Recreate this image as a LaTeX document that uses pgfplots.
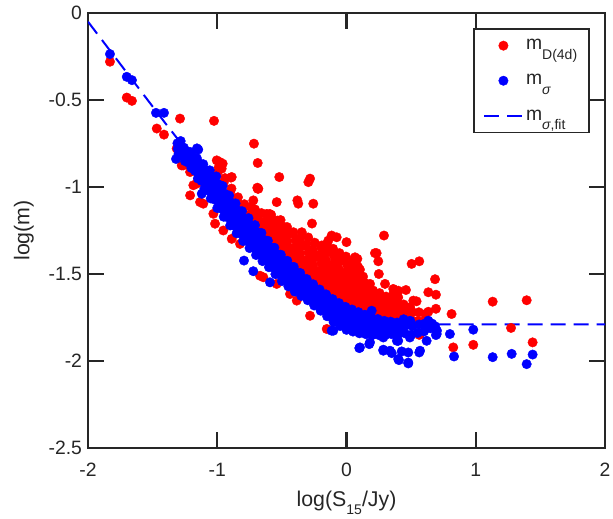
\documentclass[border=0pt]{standalone}
\usepackage{pgfplots}
\pgfplotsset{compat=1.18}
\usepackage{fontspec}
\setmainfont{Liberation Sans}
\usetikzlibrary{calc}
\definecolor{axc}{RGB}{38,38,38}
\begin{document}
\begin{tikzpicture}
\begin{axis}[name=ax, scale only axis, width=387.75pt, height=326.25pt,
 xmin=-2, xmax=2, ymin=-2.5, ymax=0,
 xtick={-2,-1,0,1,2}, xticklabels={-2,-1,0,1,2},
 ytick={-2.5,-2,-1.5,-1,-0.5,0}, yticklabels={-2.5,-2,-1.5,-1,-0.5,0},
 tick align=inside, major tick length=12pt,
 axis line style={axc, line width=1.6pt},
 every tick/.style={axc, line width=1.6pt},
 tick label style={font=\fontsize{14.5}{17}\selectfont, text=axc},
 xticklabel style={yshift=-8pt},
 yticklabel style={xshift=-1pt},
 xlabel={log(S\raisebox{-5.5pt}{\fontsize{10.5}{12}\selectfont 15}/Jy)},
 ylabel={log(m)},
 label style={font=\fontsize{16}{19}\selectfont, text=axc},
 xlabel style={at={(axis description cs:0.5,-0.135)}, anchor=base},
 ylabel style={at={(axis description cs:-0.1135,0.5)}, anchor=base},
 legend image code/.code={\draw[mark repeat=2,mark phase=2,#1] plot coordinates {(0pt,0pt) (14.25pt,0pt) (28.5pt,0pt)};},
 legend style={at={(rel axis cs:1,1)}, anchor=north east, xshift=-11.25pt, yshift=-11.25pt,
   draw=axc, line width=1.2pt, fill=white, font=\fontsize{14.5}{17}\selectfont, text=axc,
   inner xsep=7pt, inner ysep=6pt, row sep=13pt, cells={anchor=west},
   /tikz/every even column/.append style={column sep=7.5pt}},
]
\addplot[only marks, mark=*, mark size=3.55pt, mark options={fill=red, draw=red, line width=0.3pt}] coordinates {
(-1.000,-0.920) (-0.990,-0.889)
(-0.950,-0.975) (-0.940,-0.949)
(-0.900,-1.030) (-0.890,-1.009)
(-0.850,-1.075) (-0.840,-1.059)
(-0.800,-1.120) (-0.790,-1.099)
(-0.750,-1.160) (-0.740,-1.115)
(-0.700,-1.200) (-0.690,-1.165) (-0.708,-1.129)
(-0.650,-1.245) (-0.640,-1.200) (-0.658,-1.150)
(-0.600,-1.290) (-0.590,-1.245) (-0.608,-1.200) (-0.594,-1.155)
(-0.550,-1.330) (-0.540,-1.285) (-0.558,-1.240) (-0.544,-1.195)
(-0.500,-1.370) (-0.490,-1.325) (-0.508,-1.280) (-0.494,-1.235) (-0.510,-1.190)
(-0.450,-1.405) (-0.440,-1.360) (-0.458,-1.315) (-0.444,-1.270) (-0.460,-1.230)
(-0.400,-1.440) (-0.390,-1.395) (-0.408,-1.350) (-0.394,-1.305) (-0.410,-1.260)
(-0.350,-1.475) (-0.340,-1.430) (-0.358,-1.385) (-0.344,-1.340) (-0.360,-1.295) (-0.346,-1.260)
(-0.300,-1.510) (-0.290,-1.465) (-0.308,-1.420) (-0.294,-1.375) (-0.310,-1.330) (-0.296,-1.290)
(-0.250,-1.540) (-0.240,-1.495) (-0.258,-1.450) (-0.244,-1.405) (-0.260,-1.360) (-0.246,-1.320)
(-0.200,-1.570) (-0.190,-1.525) (-0.208,-1.480) (-0.194,-1.435) (-0.210,-1.390) (-0.196,-1.345)
(-0.150,-1.600) (-0.140,-1.555) (-0.158,-1.510) (-0.144,-1.465) (-0.160,-1.420) (-0.146,-1.375) (-0.154,-1.330)
(-0.100,-1.625) (-0.090,-1.580) (-0.108,-1.535) (-0.094,-1.490) (-0.110,-1.445) (-0.096,-1.400) (-0.104,-1.355)
(-0.050,-1.650) (-0.040,-1.605) (-0.058,-1.560) (-0.044,-1.515) (-0.060,-1.470) (-0.046,-1.425) (-0.054,-1.380)
(0.000,-1.670) (0.010,-1.625) (-0.008,-1.580) (0.006,-1.535) (-0.010,-1.490) (0.004,-1.445) (-0.004,-1.400)
(0.050,-1.685) (0.060,-1.640) (0.042,-1.595) (0.056,-1.550) (0.040,-1.505) (0.054,-1.460) (0.046,-1.430)
(0.100,-1.700) (0.110,-1.655) (0.092,-1.610) (0.106,-1.565) (0.090,-1.520) (0.104,-1.475)
(0.150,-1.715) (0.160,-1.670) (0.142,-1.625) (0.156,-1.580) (0.140,-1.550)
(0.200,-1.730) (0.210,-1.685) (0.192,-1.640) (0.206,-1.595)
(0.250,-1.740) (0.260,-1.695) (0.242,-1.650) (0.256,-1.610)
(0.300,-1.750) (0.310,-1.705) (0.292,-1.660) (0.306,-1.630)
(0.350,-1.755) (0.360,-1.710) (0.342,-1.665)
(0.400,-1.760) (0.410,-1.715) (0.392,-1.665)
(0.450,-1.760) (0.460,-1.720) (0.442,-1.675)
(0.500,-1.765) (0.510,-1.720) (0.492,-1.690)
(0.550,-1.770) (0.560,-1.720)
(0.600,-1.770) (0.610,-1.730)
(-0.720,-1.158) (-0.730,-1.125)
(-0.670,-1.200) (-0.680,-1.155)
(-0.620,-1.245) (-0.630,-1.200) (-0.617,-1.155)
(-0.570,-1.288) (-0.580,-1.243) (-0.567,-1.198) (-0.583,-1.160)
(-0.520,-1.328) (-0.530,-1.283) (-0.517,-1.238) (-0.533,-1.193)
(-0.470,-1.365) (-0.480,-1.320) (-0.467,-1.275) (-0.483,-1.230)
(-0.420,-1.400) (-0.430,-1.355) (-0.433,-1.265)
(-0.370,-1.435) (-0.380,-1.390) (-0.367,-1.345) (-0.383,-1.300)
(-0.320,-1.470) (-0.330,-1.425) (-0.333,-1.335)
(-0.270,-1.503) (-0.280,-1.458) (-0.267,-1.413) (-0.283,-1.368)
(-0.220,-1.533) (-0.230,-1.488) (-0.233,-1.398)
(-0.170,-1.563) (-0.180,-1.518) (-0.167,-1.473) (-0.183,-1.428) (-0.172,-1.383)
(-0.120,-1.590) (-0.130,-1.545) (-0.117,-1.500) (-0.133,-1.455)
(-0.070,-1.615) (-0.080,-1.570) (-0.067,-1.525) (-0.083,-1.480) (-0.072,-1.435)
(-0.020,-1.638) (-0.030,-1.593) (-0.017,-1.548) (-0.033,-1.503)
(0.030,-1.655) (0.020,-1.610) (0.033,-1.565) (0.017,-1.520) (0.028,-1.475)
(0.080,-1.670) (0.070,-1.625) (0.083,-1.580) (0.067,-1.535)
(0.130,-1.685) (0.120,-1.640) (0.133,-1.595) (0.117,-1.550) (0.128,-1.515)
(0.180,-1.700) (0.170,-1.655) (0.183,-1.610) (0.167,-1.570)
(0.230,-1.713) (0.220,-1.668) (0.233,-1.623)
(0.280,-1.723) (0.270,-1.678) (0.283,-1.635)
(0.330,-1.730) (0.320,-1.685) (0.333,-1.645)
(0.380,-1.735) (0.370,-1.690)
(-1.830,-0.280) (-1.700,-0.486) (-1.660,-0.505) (-1.468,-0.664) (-1.412,-0.699) (-1.288,-0.607)
(-1.025,-0.620) (-0.716,-0.751) (-0.687,-0.862) (-0.520,-0.943) (-0.295,-0.972) (-0.282,-0.952)
(-0.687,-1.010) (-0.540,-1.087) (-0.380,-1.077) (-0.373,-1.096) (-0.257,-1.096) (-0.267,-1.210)
(0.290,-1.279) (0.220,-1.380) (0.246,-1.427) (0.250,-1.500) (0.504,-1.442) (0.563,-1.427)
(0.685,-1.530) (0.633,-1.605) (0.692,-1.619) (0.813,-1.730) (0.826,-1.922) (1.131,-1.659)
(1.394,-1.651) (1.273,-1.810) (1.440,-1.893) (0.981,-1.907) (0.000,-1.317) (0.084,-1.413)
(0.091,-1.461) (0.233,-1.380) (0.182,-1.557) (0.298,-1.557) (0.362,-1.615) (0.400,-1.596)
(0.460,-1.592) (0.542,-1.657) (0.490,-1.695) (0.390,-1.700) (0.350,-1.663) (0.633,-1.717)
(0.692,-1.700) (0.563,-1.850) (-0.979,-0.857) (-0.966,-0.895) (-0.894,-0.946) (-0.690,-1.004)
(-1.314,-0.779) (-1.263,-0.876) (-1.185,-0.990) (-1.210,-1.048) (-1.133,-1.087) (-1.030,-1.154)
(-0.953,-1.250) (-0.888,-1.298) (-0.824,-1.327) (-0.669,-1.510) (-0.437,-1.615) (-0.385,-1.653)
(-0.282,-1.740) (-0.153,-1.816) (0.569,-1.845) (-1.275,-0.876) (-1.210,-0.914) (-1.159,-0.981)
(-1.004,-0.847) (-0.958,-0.866) (-0.888,-0.943) (-0.682,-1.010) (-0.721,-1.077) (-0.115,-1.279)
(-0.076,-1.289) (0.066,-1.404) (0.079,-1.452) (0.053,-1.500) (0.143,-1.615) (0.362,-1.586)
(0.400,-1.634) (0.414,-1.692) (0.517,-1.653) (-0.192,-1.336) (-0.141,-1.308) (-0.076,-1.384)
(-1.108,-1.096) (-1.017,-1.211) (-0.643,-1.519) (-0.540,-1.557)
};
\addlegendentry{m\raisebox{-7pt}{\fontsize{10.5}{12}\selectfont D(4d)}}
\addplot[only marks, mark=*, mark size=3.55pt, mark options={fill=blue, draw=blue, line width=0.3pt}] coordinates {
(-1.300,-0.811) (-1.292,-0.796) (-1.306,-0.780) (-1.295,-0.764) (-1.308,-0.749)
(-1.250,-0.851) (-1.242,-0.832) (-1.256,-0.813) (-1.245,-0.793) (-1.258,-0.774)
(-1.200,-0.891) (-1.192,-0.868) (-1.206,-0.845) (-1.195,-0.822) (-1.208,-0.799)
(-1.150,-0.951) (-1.142,-0.922) (-1.156,-0.893) (-1.145,-0.863) (-1.158,-0.834)
(-1.100,-1.011) (-1.092,-0.976) (-1.106,-0.940) (-1.095,-0.904) (-1.108,-0.869)
(-1.050,-1.066) (-1.042,-1.026) (-1.056,-0.985) (-1.045,-0.944) (-1.058,-0.904)
(-1.000,-1.121) (-0.992,-1.076) (-1.006,-1.030) (-0.995,-0.984) (-1.008,-0.939)
(-0.950,-1.171) (-0.942,-1.127) (-0.956,-1.083) (-0.945,-1.038) (-0.958,-0.994)
(-0.900,-1.221) (-0.892,-1.178) (-0.906,-1.135) (-0.895,-1.092) (-0.908,-1.049)
(-0.850,-1.266) (-0.842,-1.223) (-0.856,-1.180) (-0.845,-1.137) (-0.858,-1.094)
(-0.800,-1.311) (-0.792,-1.268) (-0.806,-1.225) (-0.795,-1.182) (-0.808,-1.139)
(-0.750,-1.351) (-0.742,-1.308) (-0.756,-1.265) (-0.745,-1.222) (-0.758,-1.179)
(-0.700,-1.391) (-0.692,-1.348) (-0.706,-1.305) (-0.695,-1.262) (-0.708,-1.219)
(-0.650,-1.426) (-0.642,-1.385) (-0.656,-1.345) (-0.645,-1.305) (-0.658,-1.264)
(-0.600,-1.461) (-0.592,-1.423) (-0.606,-1.385) (-0.595,-1.347) (-0.608,-1.309)
(-0.550,-1.501) (-0.542,-1.463) (-0.556,-1.425) (-0.545,-1.387) (-0.558,-1.349)
(-0.500,-1.541) (-0.492,-1.503) (-0.506,-1.465) (-0.495,-1.427) (-0.508,-1.389)
(-0.450,-1.571) (-0.442,-1.534) (-0.456,-1.498) (-0.445,-1.461) (-0.458,-1.424)
(-0.400,-1.601) (-0.392,-1.566) (-0.406,-1.530) (-0.395,-1.494) (-0.408,-1.459)
(-0.350,-1.626) (-0.342,-1.593) (-0.356,-1.560) (-0.345,-1.527) (-0.358,-1.494)
(-0.300,-1.651) (-0.292,-1.620) (-0.306,-1.590) (-0.295,-1.560) (-0.308,-1.529)
(-0.250,-1.681) (-0.242,-1.650) (-0.256,-1.620) (-0.245,-1.590) (-0.258,-1.559)
(-0.200,-1.711) (-0.192,-1.680) (-0.206,-1.650) (-0.195,-1.620) (-0.208,-1.589)
(-0.150,-1.743) (-0.142,-1.712) (-0.156,-1.680) (-0.145,-1.648) (-0.158,-1.617)
(-0.100,-1.776) (-0.092,-1.743) (-0.106,-1.710) (-0.095,-1.677) (-0.108,-1.644)
(-0.050,-1.799) (-0.042,-1.766) (-0.056,-1.733) (-0.045,-1.700) (-0.058,-1.667)
(0.000,-1.821) (0.008,-1.788) (-0.006,-1.755) (0.005,-1.722) (-0.008,-1.689)
(0.050,-1.831) (0.058,-1.799) (0.044,-1.768) (0.055,-1.736) (0.042,-1.704)
(0.100,-1.841) (0.108,-1.810) (0.094,-1.780) (0.105,-1.750) (0.092,-1.719)
(0.150,-1.846) (0.158,-1.818) (0.144,-1.790) (0.155,-1.762) (0.142,-1.734)
(0.200,-1.851) (0.208,-1.826) (0.194,-1.800) (0.205,-1.774) (0.192,-1.749)
(0.250,-1.851) (0.258,-1.828) (0.244,-1.805) (0.255,-1.782) (0.242,-1.759)
(0.300,-1.851) (0.308,-1.830) (0.294,-1.810) (0.305,-1.790) (0.292,-1.769)
(0.350,-1.846) (0.358,-1.828) (0.344,-1.810) (0.355,-1.792) (0.342,-1.774)
(0.400,-1.841) (0.408,-1.826) (0.394,-1.810) (0.405,-1.794) (0.392,-1.779)
(-1.271,-0.822) (-1.279,-0.805) (-1.269,-0.787) (-1.281,-0.770)
(-1.221,-0.861) (-1.229,-0.840) (-1.219,-0.818) (-1.231,-0.797)
(-1.171,-0.908) (-1.179,-0.882) (-1.169,-0.856) (-1.181,-0.830)
(-1.121,-0.965) (-1.129,-0.932) (-1.119,-0.900) (-1.131,-0.867)
(-1.071,-1.020) (-1.079,-0.982) (-1.069,-0.944) (-1.081,-0.906)
(-1.021,-1.072) (-1.029,-1.029) (-1.019,-0.986) (-1.031,-0.943)
(-0.971,-1.124) (-0.979,-1.079) (-0.969,-1.034) (-0.981,-0.989)
(-0.921,-1.174) (-0.929,-1.131) (-0.919,-1.087) (-0.931,-1.044)
(-0.871,-1.222) (-0.879,-1.179) (-0.869,-1.136) (-0.881,-1.093)
(-0.821,-1.267) (-0.829,-1.224) (-0.819,-1.181) (-0.831,-1.138)
(-0.771,-1.310) (-0.779,-1.267) (-0.769,-1.224) (-0.781,-1.181)
(-0.721,-1.350) (-0.729,-1.307) (-0.719,-1.264) (-0.731,-1.221)
(-0.671,-1.388) (-0.679,-1.346) (-0.669,-1.304) (-0.681,-1.263)
(-0.621,-1.424) (-0.629,-1.385) (-0.619,-1.345) (-0.631,-1.306)
(-0.571,-1.462) (-0.579,-1.424) (-0.569,-1.386) (-0.581,-1.348)
(-0.521,-1.502) (-0.529,-1.464) (-0.519,-1.426) (-0.531,-1.388)
(-0.471,-1.537) (-0.479,-1.500) (-0.469,-1.462) (-0.481,-1.425)
(-0.421,-1.568) (-0.429,-1.532) (-0.419,-1.496) (-0.431,-1.460)
(-0.371,-1.597) (-0.379,-1.562) (-0.369,-1.528) (-0.381,-1.493)
(-0.321,-1.622) (-0.329,-1.591) (-0.319,-1.559) (-0.331,-1.528)
(-0.271,-1.651) (-0.279,-1.620) (-0.269,-1.590) (-0.281,-1.559)
(-0.221,-1.681) (-0.229,-1.650) (-0.219,-1.620) (-0.231,-1.589)
(-0.171,-1.712) (-0.179,-1.681) (-0.169,-1.650) (-0.181,-1.619)
(-0.121,-1.744) (-0.129,-1.711) (-0.119,-1.679) (-0.131,-1.646)
(-0.071,-1.771) (-0.079,-1.738) (-0.069,-1.705) (-0.081,-1.672)
(-0.021,-1.794) (-0.029,-1.761) (-0.019,-1.728) (-0.031,-1.695)
(0.029,-1.810) (0.021,-1.777) (0.031,-1.745) (0.019,-1.712)
(0.079,-1.821) (0.071,-1.790) (0.081,-1.759) (0.069,-1.728)
(0.129,-1.829) (0.121,-1.800) (0.131,-1.770) (0.119,-1.741)
(0.179,-1.835) (0.171,-1.808) (0.181,-1.782) (0.169,-1.755)
(0.229,-1.840) (0.221,-1.815) (0.231,-1.791) (0.219,-1.766)
(0.279,-1.840) (0.271,-1.819) (0.281,-1.797) (0.269,-1.775)
(0.329,-1.839) (0.321,-1.820) (0.331,-1.800) (0.319,-1.781)
(0.379,-1.835) (0.371,-1.818) (0.381,-1.802) (0.369,-1.785)
(0.450,-1.840) (0.462,-1.795) (0.442,-1.760) (0.500,-1.849) (0.512,-1.800) (0.494,-1.770)
(0.550,-1.839) (0.562,-1.790) (0.600,-1.830) (0.606,-1.785) (0.650,-1.812) (0.662,-1.785)
(0.700,-1.826) (0.685,-1.800)
(-1.830,-0.236) (-1.700,-0.367) (-1.660,-0.386) (-1.474,-0.574) (-1.412,-0.574) (-1.283,-0.736)
(-1.319,-0.839) (-1.157,-0.778) (-1.147,-0.785) (-1.120,-1.039) (-0.793,-1.423) (-0.721,-1.484)
(-0.592,-1.548) (-0.102,-1.826) (-0.115,-1.826) (0.099,-1.926) (0.104,-1.922) (0.176,-1.903)
(0.182,-1.893) (0.285,-1.935) (0.285,-1.941) (0.337,-1.941) (0.350,-1.955) (0.400,-1.989)
(0.406,-1.995) (0.427,-1.945) (0.478,-1.951) (0.478,-2.009) (0.478,-2.014) (0.563,-1.951)
(0.569,-1.941) (0.400,-1.884) (0.390,-1.884) (0.620,-1.884) (0.692,-1.851) (0.698,-1.845)
(0.620,-1.807) (0.672,-1.797) (0.633,-1.768) (0.490,-1.770) (0.490,-1.865) (0.285,-1.865)
(0.195,-1.711) (0.800,-1.845) (0.981,-1.820) (0.832,-1.974) (1.131,-1.978) (1.278,-1.959)
(1.440,-1.963) (1.394,-2.018)
};
\addlegendentry{m\raisebox{-7pt}{\fontsize{10.5}{12}\selectfont\itshape σ}}
\addplot[blue, dash pattern=on 11.25pt off 6pt, line width=1.5pt] coordinates {
(-2,-0.05) (-1.8,-0.245) (-1.6,-0.44) (-1.4,-0.635) (-1.3,-0.73) (-1.2,-0.82) (-1.1,-0.92)
(-1.0,-1.02) (-0.8,-1.21) (-0.6,-1.37) (-0.4,-1.52) (-0.2,-1.64) (0,-1.73) (0.2,-1.77)
(0.4,-1.785) (0.6,-1.79) (0.8,-1.79) (1.0,-1.79) (1.5,-1.79) (2,-1.79)
};
\addlegendentry{m\raisebox{-7pt}{\fontsize{10.5}{12}\selectfont\textit{σ},fit}}
\end{axis}
\pgfresetboundingbox
\path ($(ax.south west)+(-66pt,-53.25pt)$) rectangle ($(ax.north east)+(6pt,9.75pt)$);
\end{tikzpicture}
\end{document}
